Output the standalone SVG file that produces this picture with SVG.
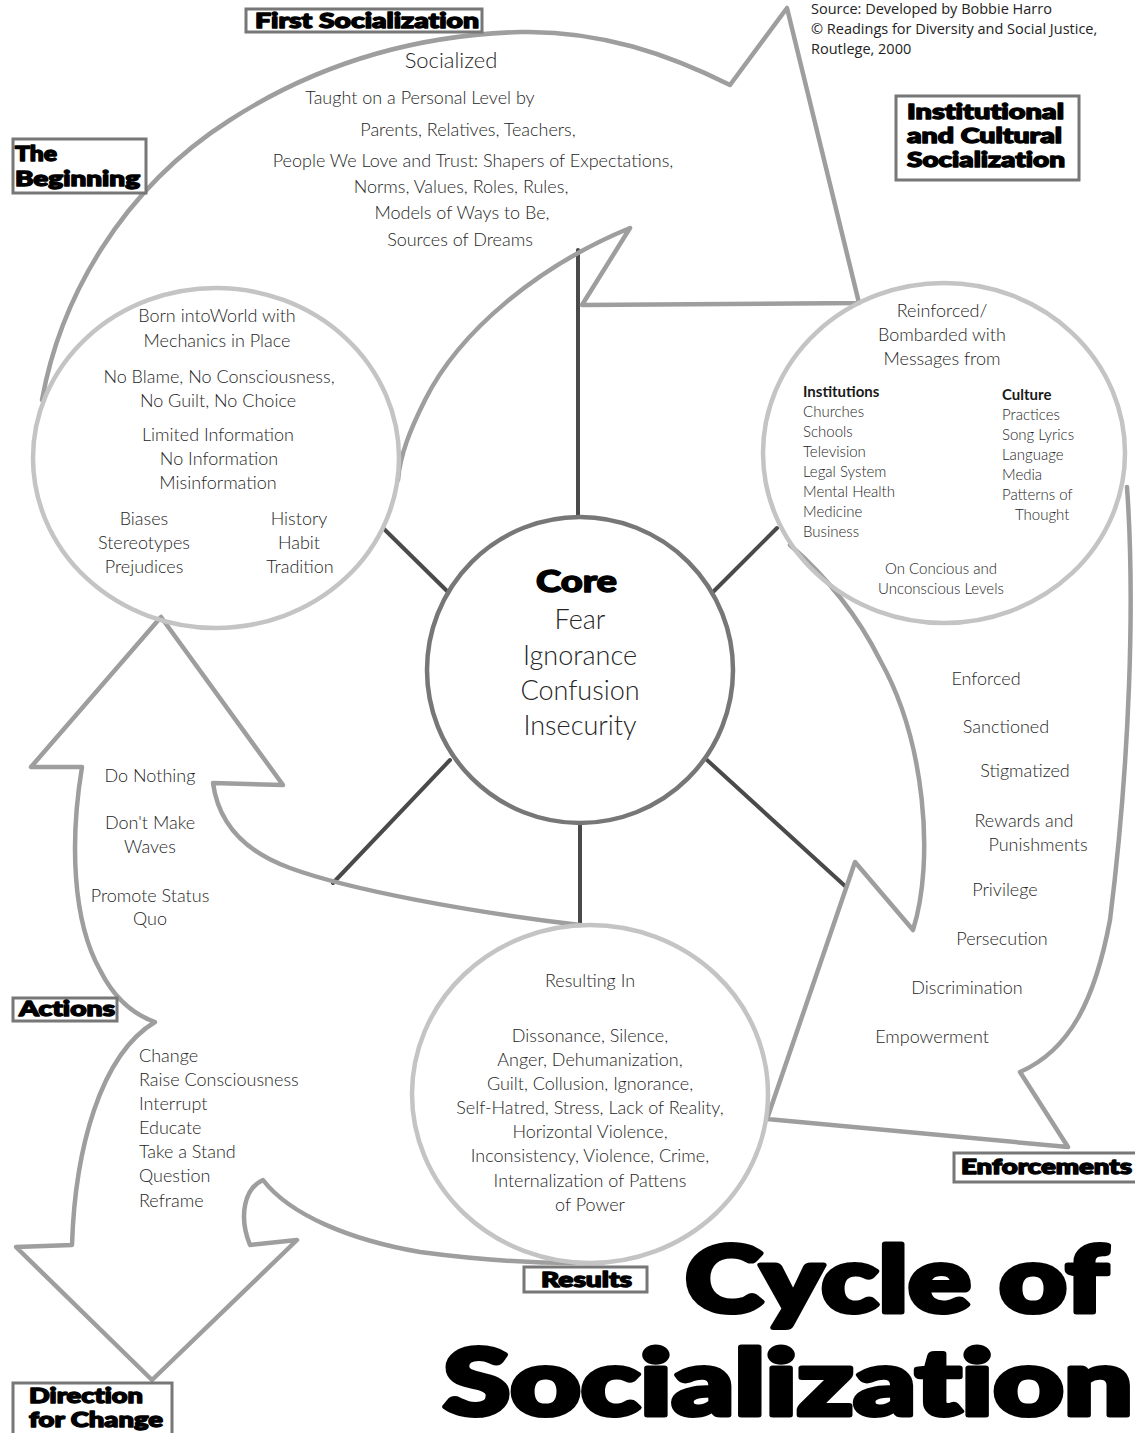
<svg xmlns="http://www.w3.org/2000/svg" width="1135" height="1433" viewBox="0 0 1135 1433">
<style>
  .arrow { fill: none; stroke: #9e9e9e; stroke-width: 4.5; stroke-linejoin: round; stroke-linecap: round; }
  .ring { fill: none; stroke: #c4c4c4; stroke-width: 4.5; }
  .core { fill: none; stroke: #777777; stroke-width: 4.5; }
  .spoke { fill: none; stroke: #4a4a4a; stroke-width: 4; stroke-linecap: round; }
  .box { fill: #ffffff; stroke: #777777; stroke-width: 3; }
  .lbl { font-family: Lato, "DejaVu Sans", sans-serif; font-weight: 900; font-size: 21px; fill: #000; stroke: #000; stroke-width: 1.4px; stroke-linejoin: round; paint-order: stroke; font-variant-ligatures: none; }
  .t { font-family: Lato, "Liberation Sans", sans-serif; font-weight: 300; font-size: 18px; fill: #262626; }
  .c { text-anchor: middle; }
  .sm { font-size: 15px; }
  .smb { font-size: 15px; font-weight: 700; fill: #1a1a1a; }
  .src { font-family: "Open Sans", "Liberation Sans", sans-serif; font-size: 14.5px; fill: #222; }
  .title { font-family: Lato, "DejaVu Sans", sans-serif; font-weight: 900; font-size: 92px; fill: #000; stroke: #000; stroke-width: 5px; stroke-linejoin: round; paint-order: stroke; font-variant-ligatures: none; }
</style>
<rect width="1135" height="1433" fill="#ffffff"/>

<g id="connectors">
  <path class="spoke" d="M578,517 L578,250"/>
  <path class="spoke" d="M448,592 L383,528"/>
  <path class="spoke" d="M713,592 L777,528"/>
  <path class="spoke" d="M450,760 L333,883"/>
  <path class="spoke" d="M707,760 L845,886"/>
  <path class="spoke" d="M580,823 L580,924"/>
</g>

<g id="first-socialization-arrow">
  <path class="arrow" d="M42,400 C60,300 120,190 230,120 C320,62 420,35 520,32 C600,30 670,55 730,85 L787,8 L859,303 L582,305 L630,228 C540,265 460,330 425,400 C410,430 400,455 398,480"/>
</g>

<g id="enforcement-arrow">
  <path class="arrow" d="M1127,487 C1135,600 1130,760 1110,920 C1095,1000 1070,1050 1020,1072 L1068,1147 L767,1119 L855,862 L913,930 C935,860 925,740 880,660 C860,620 830,580 790,545"/>
</g>

<g id="actions-arrow">
  <path class="arrow" d="M580,925 C470,912 350,890 290,868 C240,850 218,820 213,783 L283,785 L161,617 L31,767 L82,767 C70,840 72,920 100,970 C115,1000 135,1015 155,1022 C100,1055 75,1150 72,1245 L16,1247 L152,1380 L297,1240 L250,1245 C238,1215 245,1188 263,1180 C290,1215 350,1240 420,1252 C480,1260 530,1263 575,1263"/>
</g>

<g id="beginning-circle">
  <ellipse class="ring" cx="216" cy="458" rx="183" ry="170"/>
  <text class="t c" x="217" y="322">Born intoWorld with</text>
  <text class="t c" x="217" y="347">Mechanics in Place</text>
  <text class="t c" x="219" y="383">No Blame, No Consciousness,</text>
  <text class="t c" x="218" y="407">No Guilt, No Choice</text>
  <text class="t c" x="218" y="441">Limited Information</text>
  <text class="t c" x="219" y="465">No Information</text>
  <text class="t c" x="218" y="489">Misinformation</text>
  <text class="t c" x="144" y="525">Biases</text>
  <text class="t c" x="144" y="549">Stereotypes</text>
  <text class="t c" x="144" y="573">Prejudices</text>
  <text class="t c" x="299" y="525">History</text>
  <text class="t c" x="299" y="549">Habit</text>
  <text class="t c" x="300" y="573">Tradition</text>
</g>

<g id="first-socialization-text">
  <text class="t c" x="451" y="68" style="font-size:22px">Socialized</text>
  <text class="t c" x="420" y="104">Taught on a Personal Level by</text>
  <text class="t c" x="468" y="136">Parents, Relatives, Teachers,</text>
  <text class="t c" x="473" y="167">People We Love and Trust: Shapers of Expectations,</text>
  <text class="t c" x="461" y="193">Norms, Values, Roles, Rules,</text>
  <text class="t c" x="462" y="219">Models of Ways to Be,</text>
  <text class="t c" x="460" y="246">Sources of Dreams</text>
</g>

<g id="core">
  <circle class="core" cx="580" cy="670" r="153"/>
  <text class="lbl" x="536" y="592" style="font-size:30px" textLength="81" lengthAdjust="spacingAndGlyphs">Core</text>
  <text class="t c" x="580" y="629" style="font-size:27px">Fear</text>
  <text class="t c" x="580" y="665" style="font-size:27px">Ignorance</text>
  <text class="t c" x="580" y="700" style="font-size:27px">Confusion</text>
  <text class="t c" x="580" y="735" style="font-size:27px">Insecurity</text>
</g>

<g id="institutional-circle">
  <ellipse class="ring" cx="944" cy="453" rx="181" ry="170"/>
  <text class="t c" x="942" y="317">Reinforced/</text>
  <text class="t c" x="942" y="341">Bombarded with</text>
  <text class="t c" x="942" y="365">Messages from</text>
  <text class="t smb" x="803" y="397">Institutions</text>
  <text class="t sm" x="803" y="417">Churches</text>
  <text class="t sm" x="803" y="437">Schools</text>
  <text class="t sm" x="803" y="457">Television</text>
  <text class="t sm" x="803" y="477">Legal System</text>
  <text class="t sm" x="803" y="497">Mental Health</text>
  <text class="t sm" x="803" y="517">Medicine</text>
  <text class="t sm" x="803" y="537">Business</text>
  <text class="t smb" x="1002" y="400">Culture</text>
  <text class="t sm" x="1002" y="420">Practices</text>
  <text class="t sm" x="1002" y="440">Song Lyrics</text>
  <text class="t sm" x="1002" y="460">Language</text>
  <text class="t sm" x="1002" y="480">Media</text>
  <text class="t sm" x="1002" y="500">Patterns of</text>
  <text class="t sm" x="1015" y="520">Thought</text>
  <text class="t sm c" x="941" y="574">On Concious and</text>
  <text class="t sm c" x="941" y="594">Unconscious Levels</text>
</g>

<g id="enforcement-text">
  <text class="t c" x="986" y="685">Enforced</text>
  <text class="t c" x="1006" y="733">Sanctioned</text>
  <text class="t c" x="1025" y="777">Stigmatized</text>
  <text class="t c" x="1024" y="827">Rewards and</text>
  <text class="t c" x="1038" y="851">Punishments</text>
  <text class="t c" x="1005" y="896">Privilege</text>
  <text class="t c" x="1002" y="945">Persecution</text>
  <text class="t c" x="967" y="994">Discrimination</text>
  <text class="t c" x="932" y="1043">Empowerment</text>
</g>

<g id="results-circle">
  <ellipse class="ring" cx="590" cy="1094" rx="178" ry="169"/>
  <text class="t c" x="590" y="987">Resulting In</text>
  <text class="t c" x="590" y="1042">Dissonance, Silence,</text>
  <text class="t c" x="590" y="1066">Anger, Dehumanization,</text>
  <text class="t c" x="590" y="1090">Guilt, Collusion, Ignorance,</text>
  <text class="t c" x="590" y="1114">Self-Hatred, Stress, Lack of Reality,</text>
  <text class="t c" x="590" y="1138">Horizontal Violence,</text>
  <text class="t c" x="590" y="1162">Inconsistency, Violence, Crime,</text>
  <text class="t c" x="590" y="1187">Internalization of Pattens</text>
  <text class="t c" x="590" y="1211">of Power</text>
</g>

<g id="actions-text">
  <text class="t c" x="150" y="782">Do Nothing</text>
  <text class="t c" x="150" y="829">Don't Make</text>
  <text class="t c" x="150" y="853">Waves</text>
  <text class="t c" x="150" y="902">Promote Status</text>
  <text class="t c" x="150" y="925">Quo</text>
  <text class="t" x="139" y="1062">Change</text>
  <text class="t" x="139" y="1086">Raise Consciousness</text>
  <text class="t" x="139" y="1110">Interrupt</text>
  <text class="t" x="139" y="1134">Educate</text>
  <text class="t" x="139" y="1158">Take a Stand</text>
  <text class="t" x="139" y="1182">Question</text>
  <text class="t" x="139" y="1207">Reframe</text>
</g>

<g id="label-first-socialization">
  <rect class="box" x="246" y="9" width="236" height="23"/>
  <text class="lbl" x="255" y="28" textLength="224" lengthAdjust="spacingAndGlyphs">First Socialization</text>
</g>
<g id="label-the-beginning">
  <rect class="box" x="13" y="139" width="133" height="54"/>
  <text class="lbl" x="15" y="161" textLength="42" lengthAdjust="spacingAndGlyphs">The</text>
  <text class="lbl" x="15" y="186" textLength="125" lengthAdjust="spacingAndGlyphs">Beginning</text>
</g>
<g id="label-institutional">
  <rect class="box" x="896" y="96" width="183" height="84"/>
  <text class="lbl" x="907" y="119" textLength="157" lengthAdjust="spacingAndGlyphs">Institutional</text>
  <text class="lbl" x="907" y="143" textLength="155" lengthAdjust="spacingAndGlyphs">and Cultural</text>
  <text class="lbl" x="907" y="167" textLength="158" lengthAdjust="spacingAndGlyphs">Socialization</text>
</g>
<g id="label-actions">
  <rect class="box" x="13" y="998" width="104" height="23"/>
  <text class="lbl" x="19" y="1016" textLength="96" lengthAdjust="spacingAndGlyphs">Actions</text>
</g>
<g id="label-direction">
  <rect class="box" x="13" y="1383" width="159" height="52"/>
  <text class="lbl" x="29" y="1403" textLength="114" lengthAdjust="spacingAndGlyphs">Direction</text>
  <text class="lbl" x="29" y="1427" textLength="134" lengthAdjust="spacingAndGlyphs">for Change</text>
</g>
<g id="label-results">
  <rect class="box" x="524" y="1267" width="123" height="25"/>
  <text class="lbl" x="541" y="1287" textLength="91" lengthAdjust="spacingAndGlyphs">Results</text>
</g>
<g id="label-enforcements">
  <rect class="box" x="954" y="1153" width="183" height="29"/>
  <text class="lbl" x="961" y="1174" textLength="171" lengthAdjust="spacingAndGlyphs">Enforcements</text>
</g>

<g id="source">
  <text class="src" x="811" y="14">Source: Developed by Bobbie Harro</text>
  <text class="src" x="811" y="34">© Readings for Diversity and Social Justice,</text>
  <text class="src" x="811" y="54">Routlege, 2000</text>
</g>

<g id="title">
  <text class="title" x="685" y="1312" textLength="423" lengthAdjust="spacingAndGlyphs">Cycle of</text>
  <text class="title" x="443" y="1415" textLength="690" lengthAdjust="spacingAndGlyphs">Socialization</text>
</g>
</svg>
